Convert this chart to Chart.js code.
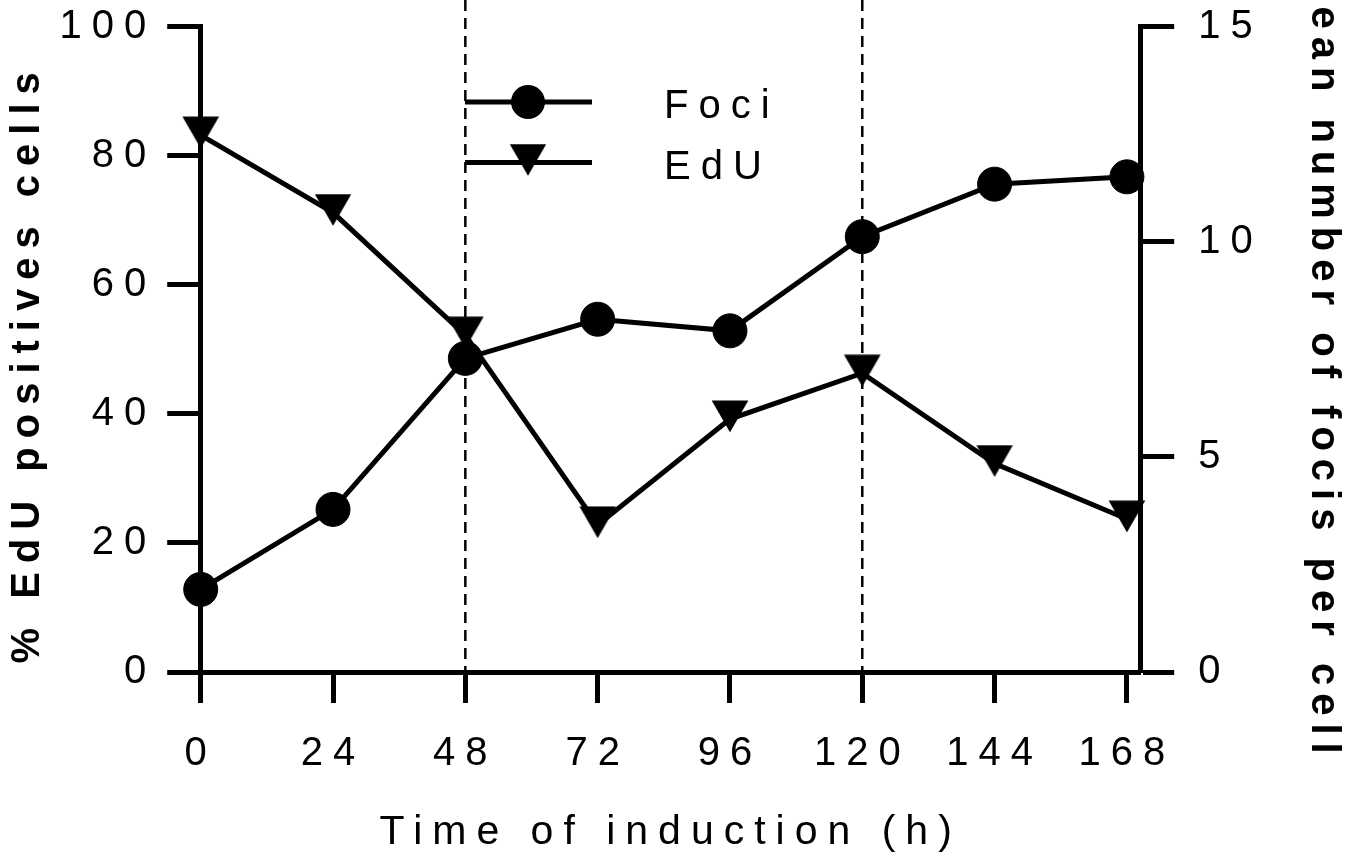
<!DOCTYPE html>
<html>
<head>
<meta charset="utf-8">
<title>EdU positives cells and foci per cell</title>
<script src="https://cdn.jsdelivr.net/npm/chart.js@4.4.1/dist/chart.umd.min.js"></script>
<style>
  html, body { margin: 0; padding: 0; background: #fff; }
  #chart { display: block; }
</style>
</head>
<body>
<canvas id="chart" width="1359" height="861"></canvas>
<script>
// values
const hours = [0, 24, 48, 72, 96, 120, 144, 168];
const fociPerCell = [1.92, 3.78, 7.29, 8.2, 7.93, 10.12, 11.34, 11.51];
const edUPositive = [83.2, 71.2, 52.2, 22.8, 39.2, 46.3, 32.3, 23.7];

const hourTicks = [0, 24, 48, 72, 96, 120, 144, 168];
const hourMax = 170.5;
const guideHours = [48, 120];

Chart.defaults.font.family = "'Liberation Sans', Arial, Helvetica, sans-serif";
Chart.defaults.color = "#000";

// downward triangle, the point sits a bit below the middle of the glyph
function makeTriangle() {
  const c = document.createElement("canvas");
  c.width = 38;
  c.height = 38;
  const g = c.getContext("2d");
  g.fillStyle = "#000";
  g.beginPath();
  g.moveTo(0.7, 0.5);
  g.lineTo(37.3, 0.5);
  g.lineTo(19, 32.2);
  g.closePath();
  g.fill();
  return c;
}
const triangle = makeTriangle();

function toPoints(ys) {
  return hours.map((h, i) => ({ x: h, y: ys[i] }));
}

// spaced-out lettering like the original export
function setSpacing(chart) {
  chart.ctx.letterSpacing = "10px";
}
const spacing = {
  id: "spacing",
  beforeUpdate: setSpacing,
  beforeLayout: setSpacing,
  beforeDraw: setSpacing
};

// the side titles sit a little low and are set tighter than the rest
const titleTweaks = {
  y: { spacing: "9px", shift: 14 },
  yFoci: { spacing: "8px", shift: 14 }
};
const titleTweak = {
  id: "titleTweak",
  afterLayout(chart) {
    Object.keys(titleTweaks).forEach((id) => {
      const s = chart.scales[id];
      if (!s || s._tweaked) return;
      const t = titleTweaks[id];
      const drawTitle = s.drawTitle;
      s.drawTitle = function () {
        this.ctx.save();
        this.ctx.letterSpacing = t.spacing;
        this.ctx.translate(0, t.shift);
        drawTitle.call(this);
        this.ctx.restore();
      };
      s._tweaked = true;
    });
  }
};

const guides = {
  id: "guides",
  beforeDatasetsDraw(chart) {
    const ctx = chart.ctx;
    const x = chart.scales.x;
    ctx.save();
    ctx.strokeStyle = "#000";
    ctx.lineWidth = 2.5;
    ctx.setLineDash([11, 7]);
    guideHours.forEach((h) => {
      const px = x.getPixelForValue(h);
      ctx.beginPath();
      ctx.moveTo(px, 0);
      ctx.lineTo(px, chart.chartArea.bottom);
      ctx.stroke();
    });
    ctx.restore();
  }
};

// legend with a line through the marker
const lineLegend = {
  id: "lineLegend",
  afterDatasetsDraw(chart) {
    const ctx = chart.ctx;
    ctx.save();
    ctx.font = "40px 'Liberation Sans', Arial, sans-serif";
    ctx.textBaseline = "middle";
    chart.data.datasets.forEach((ds, i) => {
      const y = 102 + i * 60.5;
      ctx.strokeStyle = "#000";
      ctx.fillStyle = "#000";
      ctx.lineWidth = 5;
      ctx.beginPath();
      ctx.moveTo(465, y);
      ctx.lineTo(592, y);
      ctx.stroke();
      if (ds.pointStyle === "circle") {
        ctx.beginPath();
        ctx.arc(528, y, ds.pointRadius, 0, Math.PI * 2);
        ctx.fill();
      } else {
        ctx.drawImage(ds.pointStyle, 528 - ds.pointStyle.width / 2, y - ds.pointStyle.height / 2);
      }
      ctx.fillText(ds.label, 664, y + 5);
    });
    ctx.restore();
  }
};

const axisLine = { color: "#000", width: 5 };
const tickGrid = (len) => ({
  drawOnChartArea: false,
  drawTicks: true,
  tickLength: len,
  tickWidth: 5,
  tickColor: "#000"
});

// fixed box sizes so the plot area lands where the original has it
function fixWidth(w) {
  return (s) => {
    s.width = w;
    s.paddingTop = 0;
    s.paddingBottom = 0;
  };
}

new Chart(document.getElementById("chart"), {
  type: "line",
  data: {
    datasets: [
      {
        label: "Foci",
        data: toPoints(fociPerCell),
        yAxisID: "yFoci",
        borderColor: "#000",
        borderWidth: 5,
        pointStyle: "circle",
        pointRadius: 17,
        pointBackgroundColor: "#000",
        pointBorderColor: "#000",
        pointBorderWidth: 1,
        tension: 0,
        clip: false
      },
      {
        label: "EdU",
        data: toPoints(edUPositive),
        yAxisID: "y",
        borderColor: "#000",
        borderWidth: 5,
        pointStyle: triangle,
        pointRadius: 18,
        tension: 0,
        clip: false
      }
    ]
  },
  options: {
    responsive: false,
    animation: false,
    events: [],
    layout: { padding: { top: 26.7, left: 0, right: 0, bottom: 0 } },
    plugins: { legend: { display: false }, tooltip: { enabled: false } },
    scales: {
      x: {
        type: "linear",
        min: 0,
        max: hourMax,
        afterBuildTicks: (s) => {
          s.ticks = hourTicks.map((v) => ({ value: v }));
        },
        afterFit: (s) => {
          s.height = 189;
          s.paddingLeft = 0;
          s.paddingRight = 0;
        },
        grid: tickGrid(31),
        border: axisLine,
        ticks: { color: "#000", font: { size: 40 }, padding: 27, maxRotation: 0, autoSkip: false },
        title: {
          display: true,
          text: "Time of induction (h)",
          color: "#000",
          font: { size: 41 },
          padding: { top: 0, bottom: 4 }
        }
      },
      y: {
        position: "left",
        min: 0,
        max: 100,
        afterFit: fixWidth(200.7),
        grid: tickGrid(33.5),
        border: axisLine,
        ticks: { stepSize: 20, color: "#000", font: { size: 40 }, padding: 11 },
        title: {
          display: true,
          text: "% EdU positives cells",
          color: "#000",
          font: { size: 40, weight: "bold" },
          padding: { top: 4, bottom: 0 }
        }
      },
      yFoci: {
        position: "right",
        min: 0,
        max: 15,
        afterFit: fixWidth(218.3),
        grid: tickGrid(33.5),
        border: axisLine,
        ticks: { stepSize: 5, color: "#000", font: { size: 40 }, padding: 24 },
        title: {
          display: true,
          text: "Mean number of focis per cell",
          color: "#000",
          font: { size: 40, weight: "bold" },
          padding: { top: 12, bottom: 0 }
        }
      }
    }
  },
  plugins: [spacing, titleTweak, guides, lineLegend]
});
</script>
</body>
</html>
